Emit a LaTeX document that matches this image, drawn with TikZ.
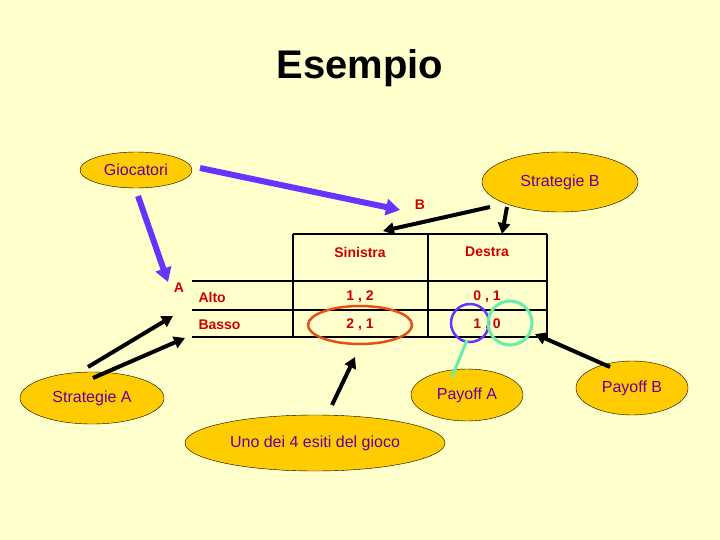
\documentclass[tikz,border=0pt]{standalone}
\usepackage{fontspec}
\setmainfont{Liberation Sans}
\usetikzlibrary{arrows.meta,shapes.geometric}
\definecolor{bg}{RGB}{255,255,204}
\definecolor{ell}{RGB}{255,204,0}
\definecolor{ptxt}{RGB}{102,0,153}
\definecolor{rtxt}{RGB}{204,0,0}
\definecolor{purp}{RGB}{102,51,255}
\definecolor{grn}{RGB}{102,238,170}
\definecolor{org}{RGB}{230,80,20}
\begin{document}
\begin{tikzpicture}[x=1pt,y=-1pt,
  bub/.style={ellipse,draw=black,fill=ell,text=ptxt,font=\fontsize{16}{18}\selectfont,inner sep=0pt},
  lab/.style={text=rtxt,font=\bfseries\fontsize{14}{16}\selectfont},
  parr/.style={draw=purp,line width=6pt,-{Triangle[length=14pt,width=16pt]}},
  barr/.style={draw=black,line width=4pt,-{Triangle[length=11pt,width=12pt]}},
  tl/.style={line width=2pt}]
\fill[bg] (0,0) rectangle (720,540);
\useasboundingbox (0,0) rectangle (720,540);
\node[font=\bfseries\fontsize{40}{44}\selectfont] (title) at (360,68) {Esempio};
% ellipses
\node[bub,minimum width=112pt,minimum height=36pt] (gioc) at (136,170) {Giocatori};
\node[bub,minimum width=144pt,minimum height=52pt] (sa) at (92,398) {Strategie A};
\node[bub,minimum width=156pt,minimum height=60pt] (sb) at (560,182) {Strategie B};
\node[bub,minimum width=112pt,minimum height=52pt] (pa) at (467,395) {Payoff A};
\node[bub,minimum width=112pt,minimum height=54pt] (pb) at (632,388) {Payoff B};
\node[bub,minimum width=260pt,minimum height=56pt] (uno) at (315,443) {Uno dei 4 esiti del gioco};
% table
\draw[tl] (293,234) -- (547,234);
\draw[tl] (192,281) -- (547,281);
\draw[tl] (192,310) -- (547,310);
\draw[tl] (192,337) -- (547,337);
\draw[tl] (293,234) -- (293,337);
\draw[tl] (428,234) -- (428,337);
\draw[tl] (547,234) -- (547,337);
\node[lab] (sin) at (360,252) {Sinistra};
\node[lab] (des) at (487,252) {Destra};
\node[lab] (alto) at (195,297) [anchor=west] {Alto};
\node[lab] (basso) at (195,325) [anchor=west] {Basso};
\node[lab] (c11) at (360,297) {1 , 2};
\node[lab] (c12) at (487,297) {0 , 1};
\node[lab] (c21) at (360,325) {2 , 1};
\node[lab] (c22) at (487,325) {1 , 0};
\node[lab] (A) at (179,288) {A};
\node[lab] (B) at (420,205) {B};
% circles
\draw[org,line width=2.5pt] (360,325) ellipse [x radius=52,y radius=19];
\draw[purp,line width=2.5pt] (470,323) circle (19);
\draw[grn,line width=3pt] (510,323) circle (22);
% arrows
\coordinate (g1) at (200,168); \coordinate (g1e) at (400,210);
\coordinate (g2) at (138,196); \coordinate (g2e) at (168,282);
\draw[parr] (g1) -- (g1e);
\draw[parr] (g2) -- (g2e);
\coordinate (s1) at (88,367); \coordinate (s1e) at (173,316);
\coordinate (s2) at (93,378); \coordinate (s2e) at (185,338);
\draw[barr] (s1) -- (s1e);
\draw[barr] (s2) -- (s2e);
\coordinate (b1) at (490,207); \coordinate (b1e) at (383,231);
\coordinate (b2) at (507,207); \coordinate (b2e) at (502,234);
\draw[barr] (b1) -- (b1e);
\draw[barr] (b2) -- (b2e);
\coordinate (u1) at (332,405); \coordinate (u1e) at (355,357);
\draw[barr] (u1) -- (u1e);
\coordinate (p1) at (610,367); \coordinate (p1e) at (535,334);
\draw[barr] (p1) -- (p1e);
\coordinate (pa1) at (452,377); \coordinate (pa1e) at (467,340);
\draw[grn,line width=3pt] (pa1) -- (pa1e);
\end{tikzpicture}
\end{document}
